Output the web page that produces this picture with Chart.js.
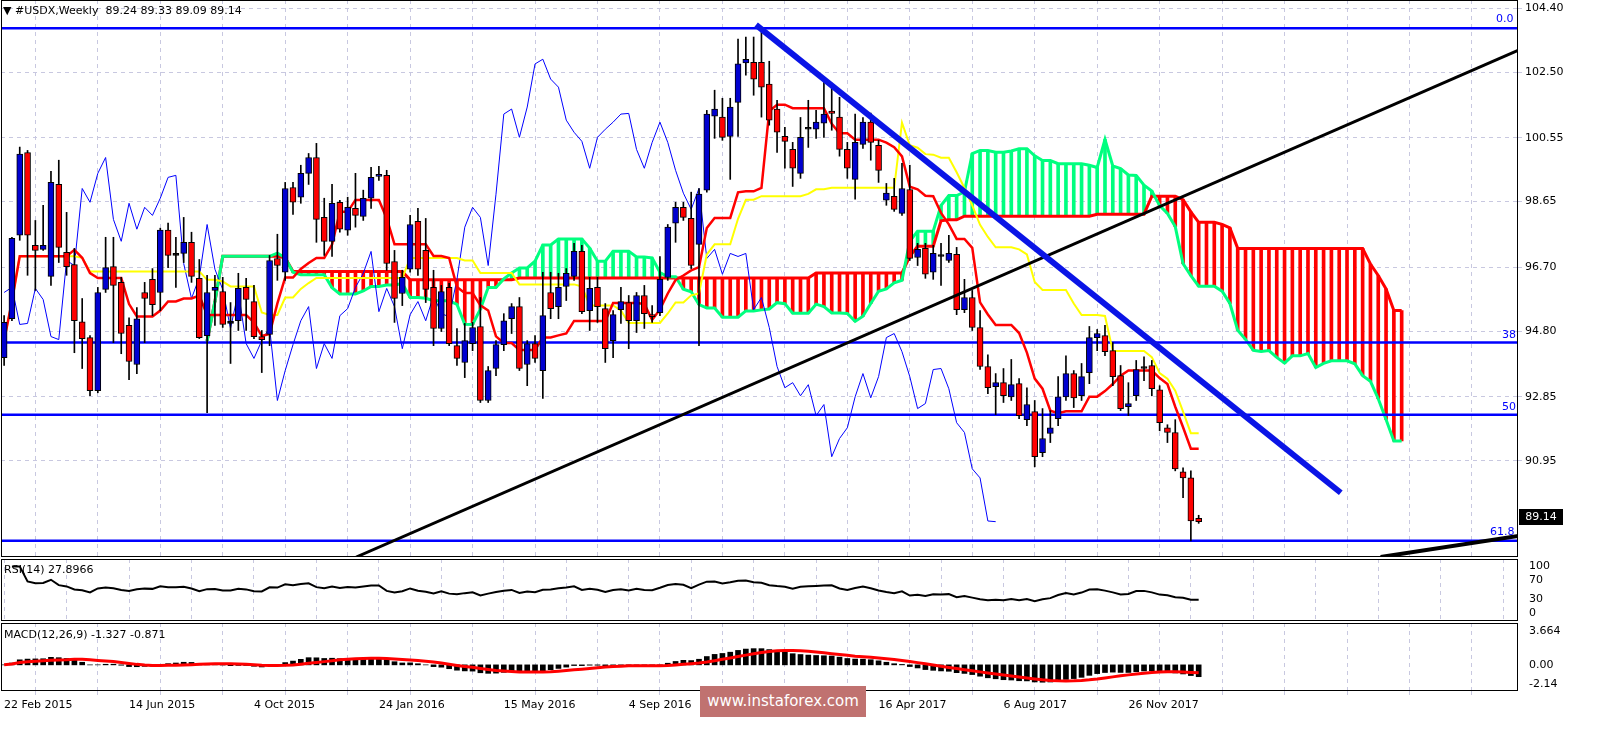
<!DOCTYPE html>
<html>
<head>
<meta charset="utf-8">
<script src="https://cdn.jsdelivr.net/npm/chart.js@4"></script>
<style>
  body { margin:0; background:#fff; width:1605px; height:733px; overflow:hidden; position:relative; font-family:"DejaVu Sans", sans-serif; }
  canvas { position:absolute; left:0; }
  .lbl { position:absolute; font-size:11px; color:#000; white-space:pre; }
  .fib { position:absolute; font-size:11px; color:#0000ff; }
</style>
</head>
<body>
<canvas id="main" width="1605" height="557" style="top:0"></canvas>
<canvas id="rsi" width="1605" height="62" style="top:559px"></canvas>
<canvas id="macd" width="1605" height="111" style="top:622px"></canvas>

<div class="lbl" style="left:3px;top:4px">▼ #USDX,Weekly  89.24 89.33 89.09 89.14</div>
<div class="lbl" style="left:4px;top:563px">RSI(14) 27.8966</div>
<div class="lbl" style="left:4px;top:628px">MACD(12,26,9) -1.327 -0.871</div>
<div class="fib" style="left:1496px;top:12px">0.0</div>
<div class="fib" style="left:1502px;top:328px">38</div>
<div class="fib" style="left:1502px;top:400px">50</div>
<div class="fib" style="left:1490px;top:525px">61.8</div>
<div style="position:absolute;left:1519px;top:509px;width:44px;height:16px;background:#000;color:#fff;font-size:11px;line-height:16px;text-align:center">89.14</div>
<div style="position:absolute;left:700px;top:686px;width:166px;height:31px;background:#c07270;color:#fff;font-size:15px;line-height:31px;text-align:center">www.instaforex.com</div>

<script>
// weekly USDX candles, 22 Feb 2015 .. Jan 2018
const opens = [94.01,95.17,97.65,100.11,97.35,97.23,96.43,99.16,97.14,96.78,
  95.08,94.61,93.03,96.04,96.72,96.25,94.97,93.81,95.95,96.34,
  95.95,97.80,97.05,97.11,97.44,96.37,94.67,96.01,95.98,95.03,
  95.11,96.10,95.68,94.64,94.70,96.96,96.55,99.07,98.78,99.49,
  99.96,98.18,97.47,98.63,97.80,98.45,98.21,98.75,99.40,99.43,
  96.87,95.92,96.64,98.06,97.20,96.10,94.88,96.10,94.37,93.87,
  94.43,94.94,92.74,93.69,94.40,95.17,95.53,93.81,94.43,93.63,
  95.95,95.53,96.13,96.43,97.17,95.41,96.10,95.47,94.52,95.44,
  95.65,95.11,95.86,95.29,95.35,96.40,98.01,98.48,98.15,97.38,
  98.99,101.19,101.16,100.59,101.60,102.77,102.79,102.79,102.14,101.40,
  100.59,100.20,99.49,100.80,100.80,100.98,101.34,101.16,100.20,99.31,
  100.35,101.01,100.32,98.69,98.81,98.30,99.01,96.99,97.26,96.55,
  97.02,96.90,97.08,95.44,95.80,94.91,93.75,93.15,93.27,92.85,
  93.24,92.17,92.41,91.19,91.76,92.20,92.85,93.54,92.88,93.57,
  94.61,94.67,94.22,93.48,92.56,92.88,93.69,93.78,93.06,91.93,
  91.79,90.62,90.44,89.24];
const highs = [95.26,97.59,100.27,100.17,98.09,98.54,99.55,99.88,98.33,97.26,
  95.77,94.67,96.10,97.59,97.59,96.40,95.20,95.50,96.25,96.66,
  97.86,98.01,97.59,98.18,97.74,96.93,96.46,96.46,96.40,95.65,
  96.52,96.37,96.16,94.82,97.05,97.68,99.22,99.22,99.73,100.08,
  100.38,98.75,99.16,98.69,98.78,99.49,98.99,99.67,99.70,99.58,
  97.20,96.61,98.24,98.45,98.15,96.61,96.16,96.22,94.88,95.03,
  95.06,95.80,93.75,94.52,95.32,95.62,95.80,94.52,94.67,96.55,
  96.55,96.52,96.66,97.41,97.35,96.40,96.40,95.62,95.41,96.10,
  95.86,95.95,96.16,95.56,97.02,97.97,98.63,98.63,98.93,99.04,
  101.36,101.96,101.72,101.72,103.48,103.54,103.54,103.75,102.82,101.66,
  100.86,100.41,101.15,101.66,101.36,102.26,102.17,101.75,100.41,101.25,
  101.15,101.28,100.47,99.19,99.34,99.79,99.73,97.41,97.41,97.35,
  97.41,97.65,97.29,96.34,96.01,95.41,94.10,93.54,93.69,93.96,
  93.39,93.12,92.74,92.50,92.44,93.45,94.07,93.63,93.84,94.94,
  94.85,94.97,94.46,93.78,93.27,93.93,94.04,93.93,93.18,92.02,
  92.17,90.74,90.65,89.33];
const lows = [93.78,95.11,97.50,96.46,96.01,97.20,96.16,96.84,96.46,94.16,
  93.69,92.88,92.97,95.95,94.46,94.13,93.36,93.54,94.46,95.26,
  95.41,96.69,96.10,96.84,96.25,94.58,92.38,94.97,94.91,93.84,
  94.82,94.82,94.58,93.57,94.37,96.31,96.31,98.27,98.60,99.16,
  97.44,97.05,97.02,97.74,97.65,97.89,98.09,98.45,99.28,96.61,
  95.06,95.56,96.55,96.46,95.65,94.37,94.79,94.37,93.78,93.42,
  94.22,92.68,92.68,93.48,94.22,94.73,93.63,93.18,93.87,92.80,
  95.17,95.17,95.71,96.31,95.32,94.82,95.06,93.87,94.01,95.03,
  94.28,94.76,94.88,95.06,95.26,96.31,97.44,98.09,96.66,94.37,
  98.93,100.53,100.47,99.31,100.59,102.41,101.81,101.16,100.92,100.11,
  99.64,99.10,99.34,100.26,100.53,100.56,100.77,100.00,99.34,98.72,
  100.23,99.88,99.22,98.54,98.36,98.24,96.90,96.75,96.37,96.34,
  96.16,96.84,95.29,95.35,94.82,93.66,92.94,92.32,92.68,92.74,
  92.20,91.99,90.77,91.07,91.49,91.99,92.74,92.53,92.74,93.24,
  94.22,94.07,93.18,92.44,92.29,92.74,93.33,92.88,91.84,91.49,
  90.65,89.85,88.57,89.09];
const closes = [95.06,97.56,100.06,97.65,97.20,97.35,99.22,97.29,96.72,95.11,
  94.58,93.03,95.95,96.69,96.16,94.73,93.90,95.17,95.77,95.59,
  97.80,97.05,97.05,97.44,96.43,94.61,95.95,96.10,95.00,95.03,
  96.07,95.74,94.64,94.55,96.90,96.75,99.04,98.63,99.49,99.96,
  98.12,97.47,98.60,97.83,98.48,98.24,98.75,99.37,99.43,96.81,
  95.77,96.40,97.97,96.64,96.04,94.88,95.98,94.43,93.99,94.52,
  94.91,92.74,93.63,94.40,95.11,95.53,93.69,94.43,93.99,95.26,
  95.47,96.10,96.52,97.17,95.38,96.07,95.53,94.28,95.29,95.68,
  95.11,95.86,95.32,95.23,96.34,97.89,98.48,98.18,96.75,98.87,
  101.25,101.40,100.56,101.46,102.74,102.88,102.29,102.05,101.07,100.71,
  100.44,99.64,100.56,100.80,101.01,101.25,101.27,100.20,99.64,100.41,
  101.01,100.41,99.58,98.90,98.42,99.04,96.96,97.23,96.49,97.11,
  97.02,97.11,95.44,95.80,94.91,93.75,93.12,93.27,92.88,93.21,
  92.29,92.62,91.07,91.61,91.93,92.85,93.54,92.82,93.45,94.61,
  94.73,94.19,93.45,92.50,92.65,93.66,93.69,93.09,92.08,91.79,
  90.71,90.44,89.16,89.14];

const xLabels = ['22 Feb 2015','14 Jun 2015','4 Oct 2015','24 Jan 2016','15 May 2016',
  '4 Sep 2016','25 Dec 2016','16 Apr 2017','6 Aug 2017','26 Nov 2017'];
const priceTicks = [104.40,102.50,100.55,98.65,96.70,94.80,92.85,90.95];
const fibLevels = [103.80,94.46,92.32,88.57];
// hand drawn trend lines: [x1,y1,x2,y2] in week index / price
const blueTrend = [96.3,103.90,171.2,90.00];
const blackTrend = [45.1,88.09,194,103.15];
const blackTrend2 = [176.3,88.09,194,88.72];

const N = closes.length;
const XMIN = -0.4, XMAX = 193.9;

function hh(arr,i,n){let m=-Infinity;for(let k=Math.max(0,i-n+1);k<=i;k++)m=Math.max(m,arr[k]);return m;}
function ll(arr,i,n){let m=Infinity;for(let k=Math.max(0,i-n+1);k<=i;k++)m=Math.min(m,arr[k]);return m;}

// ichimoku 9/26/52
let tenkan=[],kijun=[],spanA=[],spanB=[],chikou=[],hatch=[],hatchCol=[];
for(let i=0;i<N;i++){
  let t=(hh(highs,i,9)+ll(lows,i,9))/2, k=(hh(highs,i,26)+ll(lows,i,26))/2;
  tenkan.push({x:i,y:t}); kijun.push({x:i,y:k});
  let a=(t+k)/2, b=(hh(highs,i,52)+ll(lows,i,52))/2;
  spanA.push({x:i+26,y:a}); spanB.push({x:i+26,y:b});
  hatch.push({x:i+26,y:[Math.min(a,b),Math.max(a,b)]});
  hatchCol.push(a>=b?'#00ff7f':'#ff0000');
  if(i>=26) chikou.push({x:i-26,y:closes[i]});
}
const wicks = closes.map((c,i)=>({x:i,y:[lows[i],highs[i]]}));
const bodies = closes.map((c,i)=>({x:i,y:[Math.min(opens[i],c),Math.max(opens[i],c)]}));
const bodyCol = closes.map((c,i)=>c>opens[i]?'#0000d0':(c<opens[i]?'#ff0000':'#000'));

// RSI 14 (wilder)
let rsi=[],ag=0,al=0;
for(let i=1;i<N;i++){
  let d=closes[i]-closes[i-1],g=Math.max(d,0),l=Math.max(-d,0);
  let n=Math.min(i,14);
  ag=(ag*(n-1)+g)/n; al=(al*(n-1)+l)/n;
  rsi.push({x:i,y:al===0?100:100-100/(1+ag/al)});
}
// MACD 12,26,9
let e12=closes[0],e26=closes[0],macd=[],sig=[];
for(let i=0;i<N;i++){
  e12+= (closes[i]-e12)*2/13; e26+=(closes[i]-e26)*2/27;
  macd.push({x:i,y:e12-e26});
  let s=0,c=0;for(let k=Math.max(0,i-8);k<=i;k++){s+=macd[k].y;c++;}
  sig.push({x:i,y:s/c});
}

const gridCol='#c8c8e0';
const font={family:'DejaVu Sans',size:11};
const frame={id:'frame',afterDraw(c){const a=c.chartArea,x=c.ctx;x.save();x.strokeStyle='#000';x.lineWidth=1;
  x.strokeRect(a.left+0.5,a.top+0.5,a.right-a.left-1,a.bottom-a.top-1);x.restore();}};

function xScale(showLabels){
  return {type:'linear',min:XMIN,max:XMAX,offset:false,
    afterBuildTicks(s){let t=[];for(let i=0;i<=192;i+=8)t.push({value:i});s.ticks=t;},
    afterFit(s){s.height=showLabels?42:0;s.paddingLeft=0;s.paddingRight=0;},
    grid:{color:gridCol,drawTicks:showLabels,tickLength:4},
    border:{display:false,dash:[4,4]},
    ticks:{display:showLabels,align:'start',maxRotation:0,autoSkip:false,padding:4,color:'#000',font,
      callback:v=>(v%16===0&&v/16<xLabels.length)?xLabels[v/16]:''}};
}
function yScale(min,max,ticks,fmt){
  return {position:'right',min,max,
    afterBuildTicks(s){s.ticks=ticks.map(v=>({value:v}));},
    afterFit(s){s.width=87;s.paddingTop=0;s.paddingBottom=0;},
    grid:{color:gridCol,tickLength:4},border:{display:false,dash:[4,4]},
    ticks:{color:'#000',font,padding:3,autoSkip:false,callback:fmt}};
}
const line=(data,color,w,order,extra)=>Object.assign({type:'line',data,borderColor:color,borderWidth:w,pointRadius:0,tension:0,order,fill:false},extra||{});
const seg=(l)=>[{x:l[0],y:l[1]},{x:l[2],y:l[3]}];

const base={responsive:false,animation:false,events:[],
  plugins:{legend:{display:false},tooltip:{enabled:false}}};

new Chart(document.getElementById('main'),{
  type:'bar',
  data:{datasets:[
    {data:hatch,backgroundColor:hatchCol,barThickness:3,grouped:false,order:10},
    line(spanA,'#00ff7f',3,9),
    line(spanB,'#ff0000',3,9),
    ...fibLevels.map(v=>line([{x:XMIN,y:v},{x:XMAX,y:v}],'#0000ff',2.5,8)),
    line(chikou,'#0000ff',1,7),
    line(kijun,'#ffff00',2,6),
    line(tenkan,'#ff0000',2.5,5),
    {data:wicks,backgroundColor:'#000',barThickness:1,grouped:false,order:4},
    {data:bodies,backgroundColor:bodyCol,borderColor:'#000',borderWidth:1,borderSkipped:false,barThickness:6,minBarLength:2,grouped:false,order:3},
    line(seg(blackTrend),'#000',3,2),
    line(seg(blackTrend2),'#000',4,2),
    line(seg(blueTrend),'#0a14e6',6,1)
  ]},
  options:Object.assign({},base,{layout:{padding:{left:1,top:0,bottom:0}},
    scales:{x:xScale(false),y:yScale(88.09,104.64,priceTicks,v=>v.toFixed(2))}}),
  plugins:[frame]
});

new Chart(document.getElementById('rsi'),{
  type:'line',
  data:{datasets:[line(rsi,'#000',2,1)]},
  options:Object.assign({},base,{layout:{padding:{left:1,top:0,bottom:0}},
    scales:{x:xScale(false),y:Object.assign(yScale(-18,116,[100,70,30,0],v=>String(v)),{grid:{display:false}})}}),
  plugins:[frame]
});

new Chart(document.getElementById('macd'),{
  type:'bar',
  data:{datasets:[
    {data:macd,backgroundColor:'#000',barThickness:5,grouped:false,order:2},
    line(sig,'#ff0000',3,1)
  ]},
  options:Object.assign({},base,{layout:{padding:{left:1,top:1,bottom:0}},
    scales:{x:xScale(true),y:Object.assign(yScale(-2.86,4.58,[3.664,0,-2.14],v=>v===0?'0.00':String(v)),{grid:{display:false}})}}),
  plugins:[frame]
});
</script>
</body>
</html>
